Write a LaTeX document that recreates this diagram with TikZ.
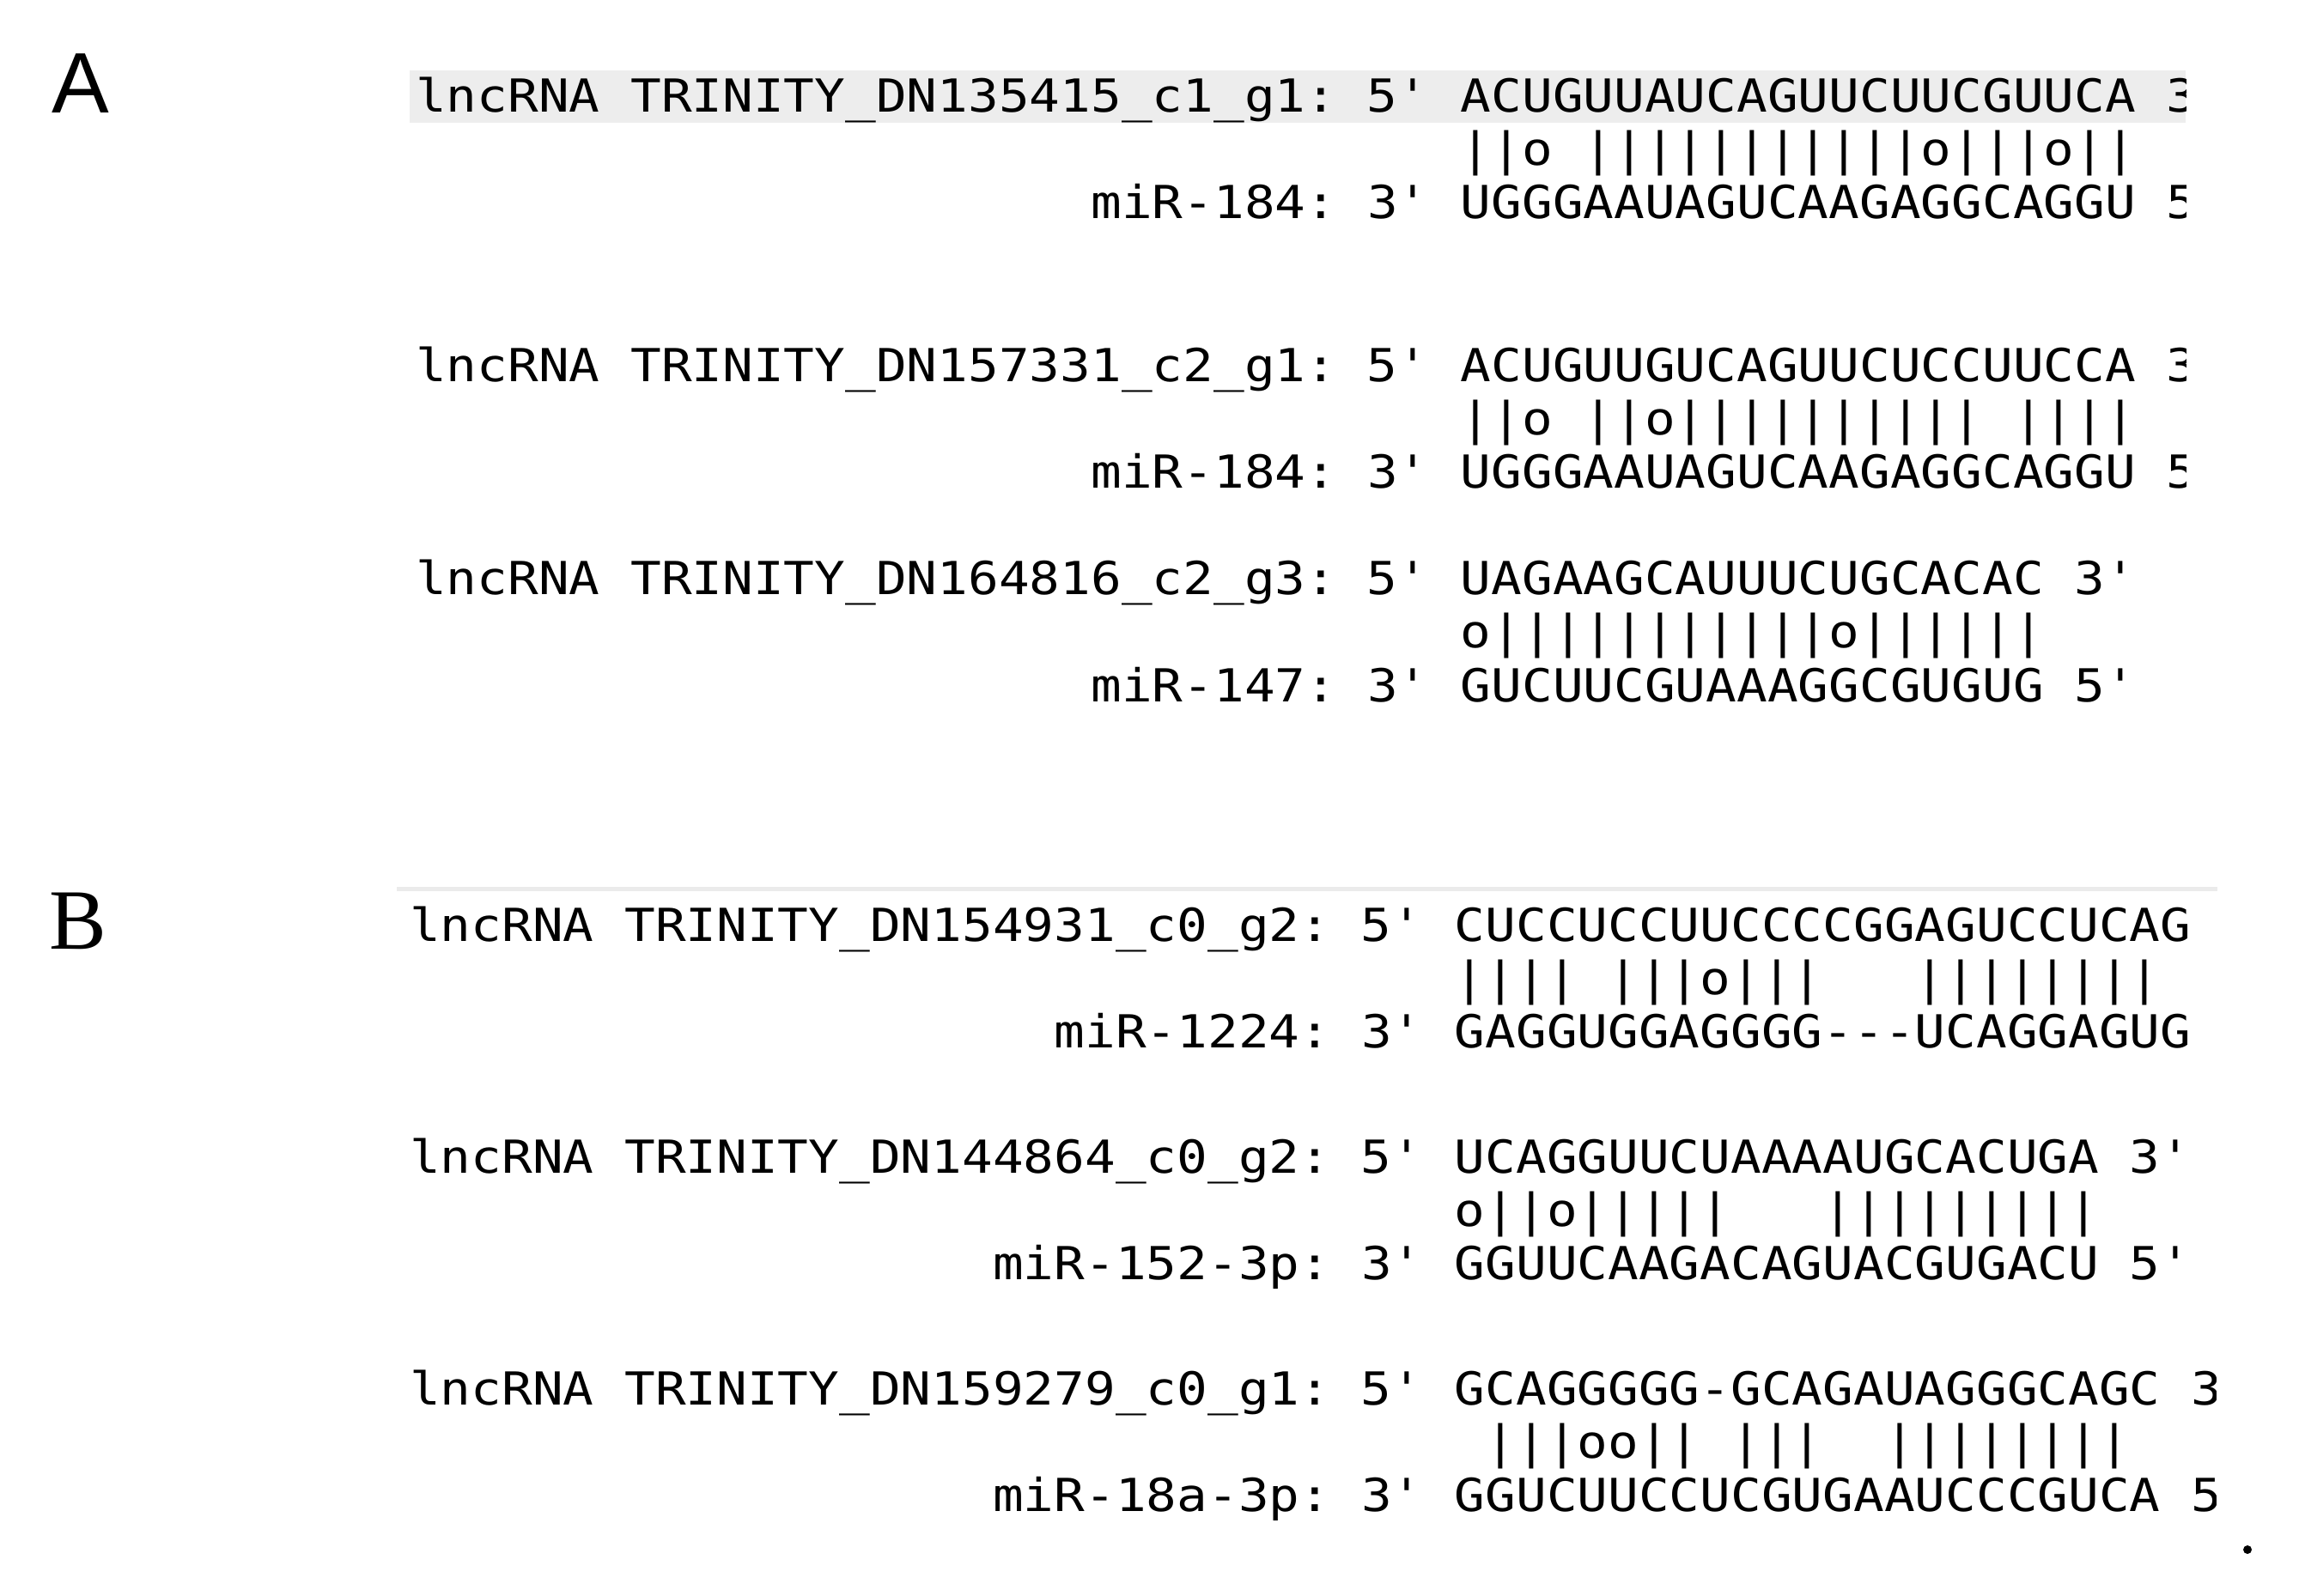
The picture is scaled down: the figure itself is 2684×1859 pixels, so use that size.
\documentclass[tikz,border=0pt]{standalone}
\usepackage{fontspec}
\setmainfont{Liberation Serif}
\setsansfont{Liberation Sans}
\setmonofont[FakeStretch=1.12]{DejaVu Sans Mono}

\begin{document}
\begin{tikzpicture}[x=0.25pt,y=-0.25pt,
	seq/.style={inner sep=0pt, font=\ttfamily\fontsize{13.25}{16}\selectfont},
	panel/.style={inner sep=0pt, anchor=base west, font=\fontsize{25}{30}\selectfont}]
\useasboundingbox (0,0) rectangle (2684,1859);

\def\duplex at (#1,#2)#3#4#5#6#7#8{
	\node[seq, anchor=base east] (#3lab) at (#1-35.7,#2) {#4};
	\node[seq, anchor=base west] (#3lnc) at (#1,#2) {#5};
	\node[seq, anchor=base west] (#3pair) at (#1,#2+62) {#6};
	\node[seq, anchor=base east] (#3mlab) at (#1-35.7,#2+124) {#7};
	\node[seq, anchor=base west] (#3mir) at (#1,#2+124) {#8};
}

\node[panel, font=\sffamily\fontsize{25}{30}\selectfont] (pA) at (60,132) {A};
\node[panel] (pB) at (57,1105) {B};

\fill[black!7] (477,82) rectangle (2545,143);
\fill[black!8] (462,1033) rectangle (2582,1038);

\begin{scope}
	\clip (0,0) rectangle (2545,950);
	\duplex at (1700,131){a1}{lncRNA~TRINITY\_DN135415\_c1\_g1:~5'}{ACUGUUAUCAGUUCUUCGUUCA~3}
		{||o~|||||||||||o|||o||}{miR-184:~3'}{UGGGAAUAGUCAAGAGGCAGGU~5}
	\duplex at (1700,445){a2}{lncRNA~TRINITY\_DN157331\_c2\_g1:~5'}{ACUGUUGUCAGUUCUCCUUCCA~3}
		{||o~||o||||||||||~||||}{miR-184:~3'}{UGGGAAUAGUCAAGAGGCAGGU~5}
	\duplex at (1700,693){a3}{lncRNA~TRINITY\_DN164816\_c2\_g3:~5'}{UAGAAGCAUUUCUGCACAC~3'}
		{o|||||||||||o||||||}{miR-147:~3'}{GUCUUCGUAAAGGCGUGUG~5'}
\end{scope}

\begin{scope}
	\clip (0,1000) rectangle (2580,1859);
	\duplex at (1693,1096){b1}{lncRNA~TRINITY\_DN154931\_c0\_g2:~5'}{CUCCUCCUUCCCCGGAGUCCUCAG}
		{||||~|||o|||~~~||||||||}{miR-1224:~3'}{GAGGUGGAGGGG---UCAGGAGUG}
	\duplex at (1693,1366){b2}{lncRNA~TRINITY\_DN144864\_c0\_g2:~5'}{UCAGGUUCUAAAAUGCACUGA~3'}
		{o||o|||||~~~|||||||||}{miR-152-3p:~3'}{GGUUCAAGACAGUACGUGACU~5'}
	\duplex at (1693,1636){b3}{lncRNA~TRINITY\_DN159279\_c0\_g1:~5'}{GCAGGGGG-GCAGAUAGGGCAGC~3}
		{~|||oo||~|||~~||||||||}{miR-18a-3p:~3'}{GGUCUUCCUCGUGAAUCCCGUCA~5}
\end{scope}

\fill (2617,1805) circle (5);
\end{tikzpicture}
\end{document}
